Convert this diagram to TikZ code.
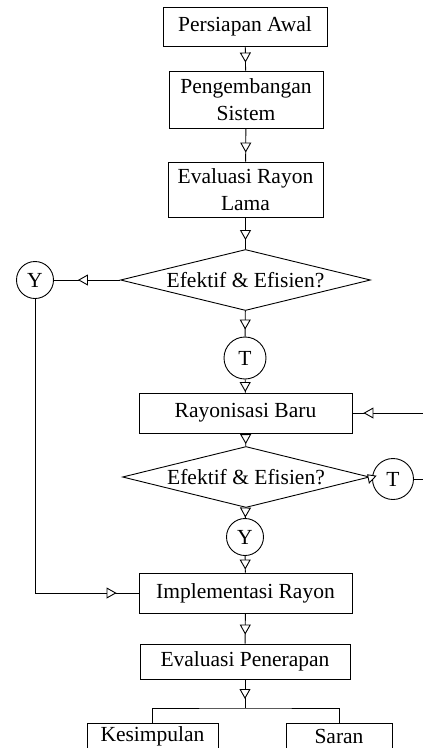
\documentclass[tikz,border=0pt]{standalone}
\usepackage{fontspec}
\setmainfont{Liberation Serif}
\usetikzlibrary{shapes.geometric,arrows.meta,decorations.markings}

\begin{document}
\begin{tikzpicture}[
        x=1pt, y=-1pt,
        line width=0.9pt,
        font=\fontsize{21.5}{26.5}\selectfont,
        box/.style={draw, align=center, inner sep=0pt, minimum height=40pt},
        circ/.style={draw, circle, inner sep=0pt, minimum size=#1},
        decision/.style={draw, diamond, aspect=4, inner sep=0pt, minimum width=250pt, minimum height=61pt},
        flow/.style={postaction={decorate}, decoration={markings,
            mark=at position #1 with {\arrow{Triangle[open, fill=white, width=11pt, length=10pt]}}}},
        flow/.default=-8pt
    ]
        \useasboundingbox (0,0) rectangle (423,748);

        % Main column of steps
        \node[box, minimum width=164pt, minimum height=39pt] (awal) at (245,26.5) {Persiapan Awal};
        \node[box, minimum width=154pt, minimum height=57pt] (sistem) at (246,99.5) {Pengembangan\\Sistem};
        \node[box, minimum width=155pt, minimum height=55pt] (evlama) at (245.5,189.5) {Evaluasi Rayon\\Lama};
        \node[decision] (cek1) at (245.5,280) {Efektif \& Efisien?};
        \node[circ=37pt] (y1) at (35,280) {Y};
        \node[circ=42pt] (t1) at (245,358) {T};
        \node[box, minimum width=213pt] (baru) at (245.5,413) {Rayonisasi Baru};
        \node[decision, minimum width=247pt] (cek2) at (246,477) {Efektif \& Efisien?};
        \node[circ=41pt] (t2) at (393,479) {T};
        \node[circ=37pt] (y2) at (245,537) {Y};
        \node[box, minimum width=213pt] (impl) at (245.5,593) {Implementasi Rayon};
        \node[box, minimum width=210pt, minimum height=35pt] (evterap) at (245,661.5) {Evaluasi Penerapan};

        % Outputs at the bottom
        \node[box, minimum width=131pt, minimum height=26pt] (simpul) at (152.5,736) {Kesimpulan};
        \node[box, minimum width=106pt, minimum height=26pt] (saran) at (339,736) {Saran};

        % Helper points
        \coordinate (fork) at (245,708);
        \coordinate (loop) at (445,479);

        % Arrows down the column
        \draw[flow] (awal) -- (sistem);
        \draw[flow=-9pt] (sistem) -- (evlama);
        \draw[flow=-9pt] (evlama) -- (cek1);
        \draw[flow=-7pt] (cek1) -- (t1);
        \draw[flow=-0.5pt] (t1) -- (baru);
        \draw[flow=-2pt] (baru) -- (cek2);
        \draw[flow=-0.5pt] (cek2) -- (y2);
        \draw[flow=-3pt] (y2) -- (impl);
        \draw[flow=-9pt] (impl) -- (evterap);
        \draw[flow=-9pt] (evterap) -- (fork);
        \draw (simpul.north) |- (fork) -| (saran.north);

        % Branches of the decisions
        \draw[flow=-24pt] (cek1) -- (y1);
        \draw[flow=-22pt] (y1) |- (impl);
        \draw[-{Triangle[open, fill=white, width=11pt, length=8pt]}, shorten >=-4pt] (t2.west) -- (cek2.east);
        \draw[flow=-11pt] (t2) -- (loop) |- (baru);
    \end{tikzpicture}
\end{document}
